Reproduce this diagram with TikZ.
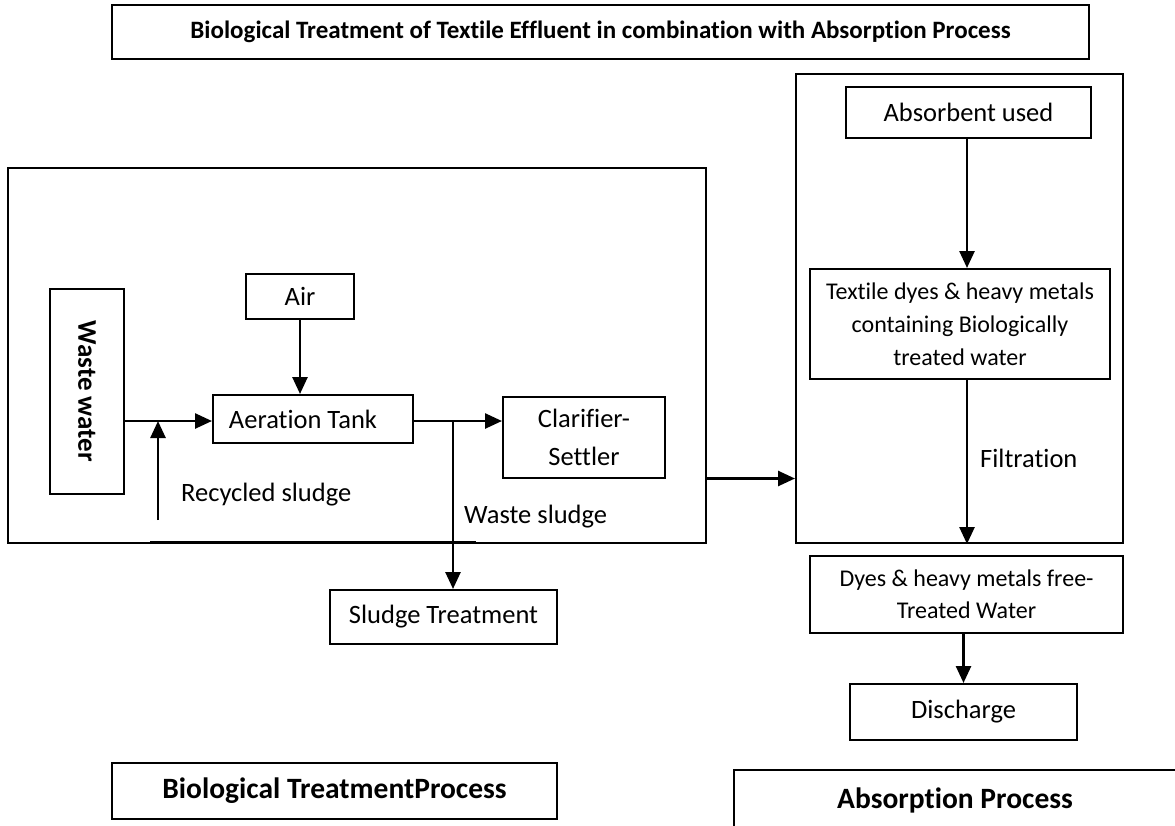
\documentclass[tikz,border=0pt]{standalone}
\usepackage{fontspec}
\setmainfont{Carlito}[RawFeature=-liga]
\usetikzlibrary{arrows.meta,calc}
\tikzset{
  box/.style={draw=black, line width=2pt, inner sep=0pt, align=center, font=\fontsize{26.5}{33}\selectfont},
  smallbox/.style={box, font=\fontsize{24}{33}\selectfont},
  headbox/.style={draw=black, line width=2pt, inner sep=0pt, align=center},
  flow/.style={line width=2.6pt, -{Triangle[length=17pt,width=15pt]}},
  plain/.style={line width=2.6pt},
  lbl/.style={inner sep=0pt, anchor=west, font=\fontsize{26.5}{33}\selectfont}
}
\begin{document}
\begin{tikzpicture}[x=1pt,y=-1pt]
\useasboundingbox (0,0) rectangle (1175,825);
\clip (0,0) rectangle (1175,825);
% title
\node[headbox, line width=2.5pt, minimum width=977pt, minimum height=54pt, font=\fontsize{25}{30}\selectfont\bfseries] (title) at (600.5,32) {Biological Treatment of Textile Effluent in combination with Absorption Process};
% frames
\node[box, minimum width=698pt, minimum height=375pt] (bio) at (357,355.5) {};
\node[box, minimum width=327pt, minimum height=469pt] (ads) at (959.5,308.5) {};
% left process
\node[box, minimum width=74pt, minimum height=205pt] (ww) at (87,391.5) {};
\node[inner sep=0pt, rotate=-90, font=\fontsize{27}{33}\selectfont\bfseries] (wwt) at (ww.center) {Waste water};
\node[box, minimum width=108pt, minimum height=45pt] (air) at (300,296.5) {Air};
\node[box, minimum width=200pt, minimum height=48pt] (at) at (313,419) {\hspace*{-20pt}Aeration Tank};
\node[box, minimum width=162pt, minimum height=81pt, font=\fontsize{26.5}{38}\selectfont] (cl) at (584,437) {Clarifier-\\Settler};
\node[box, minimum width=227pt, minimum height=54pt] (st) at (443.5,617) {Sludge Treatment};
\coordinate (ws) at (124,421);
\coordinate (br) at (453,421);
\coordinate (rs) at (158,520);
\coordinate (ra) at (158,421);
\coordinate (bl) at (150,542);
\coordinate (br2) at (476,542);
\draw[flow] (ws) -- (ws -| at.west);
\draw[flow] (rs) -- (ra);
\draw[flow] (air.south) -- (air.south |- at.north);
\draw[flow] (at.east |- br) -- (br -| cl.west);
\draw[flow] (br) -- (br |- st.north);
\draw[plain] (bl) -- (br2);
\node[lbl] (rsl) at (181,495) {Recycled sludge};
\node[lbl] (wsl) at (464,517) {Waste sludge};
\draw[flow] (cl.south -| bio.east) -- (cl.south -| ads.west);
% right process
\node[box, minimum width=245pt, minimum height=51pt] (ab) at (968.5,112.5) {Absorbent used};
\node[smallbox, minimum width=300pt, minimum height=110pt] (tx) at (960,324) {Textile dyes \& heavy metals\\containing Biologically\\treated water};
\node[smallbox, minimum width=313pt, minimum height=77pt, font=\fontsize{24}{32}\selectfont] (dy) at (966.5,594.5) {Dyes \& heavy metals free-\\Treated Water};
\node[box, minimum width=227pt, minimum height=56pt] (dc) at (963.5,712) {Discharge};
\coordinate (cx) at (967,0);
\draw[flow] (cx |- ab.south) -- (cx |- tx.north);
\draw[flow] (cx |- tx.south) -- (cx |- ads.south);
\node[lbl] (fl) at (980,458) {Filtration};
\draw[flow] (dc.north |- dy.south) -- (dc.north);
% bottom labels
\node[headbox, minimum width=445pt, minimum height=56pt, font=\fontsize{29.5}{34}\selectfont\bfseries] (btp) at (334.5,791) {Biological TreatmentProcess};
\node[headbox, minimum width=446pt, minimum height=60pt] (apb) at (957,800) {};
\node[inner sep=0pt, font=\fontsize{29.5}{34}\selectfont\bfseries] (apt) at (955,800) {Absorption Process};
\end{tikzpicture}
\end{document}
